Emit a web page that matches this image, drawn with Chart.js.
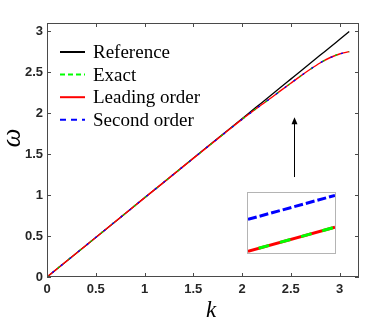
<!DOCTYPE html>
<html><head><meta charset="utf-8">
<script src="https://cdn.jsdelivr.net/npm/chart.js@4/dist/chart.umd.min.js"></script>
<style>
html,body{margin:0;padding:0;background:#fff;}
#wrap{position:relative;width:382px;height:322px;}
#inset{position:absolute;left:247px;top:192px;width:87px;height:60px;border:1px solid #b4b4b4;background:#fff;}
</style></head>
<body>
<div id="wrap">
<canvas id="c" width="382" height="322"></canvas>
<div id="inset"><canvas id="ci" width="87" height="60"></canvas></div>
</div>
<script>
// ---- data ----
const kValues      = [0,0.5,1,1.5,1.8,2,2.1,2.2,2.3,2.4,2.5,2.6,2.7,2.8,2.9,3.0,3.1];
const referenceW   = [0,0.483,0.966,1.449,1.739,1.932,2.029,2.125,2.222,2.318,2.415,2.512,2.608,2.705,2.801,2.898,2.995];
const exactW       = [0,0.483,0.966,1.448,1.735,1.924,2.014,2.102,2.188,2.277,2.365,2.452,2.535,2.612,2.676,2.722,2.75];
const leadingW     = [0,0.483,0.966,1.448,1.735,1.924,2.014,2.102,2.188,2.277,2.365,2.452,2.535,2.612,2.676,2.722,2.75];
const secondW      = [0,0.483,0.966,1.448,1.735,1.924,2.014,2.102,2.188,2.277,2.365,2.452,2.535,2.612,2.676,2.722,2.75];
const xTicks = [0,0.5,1,1.5,2,2.5,3];
const yTicks = [0,0.5,1,1.5,2,2.5,3];
// inset (magnified view, local units)
const insetX       = [0,1];
const insetSecond  = [0.56,0.96];
const insetExact   = [0.03,0.43];
const insetLeading = [0.03,0.43];
// arrow annotation (data coords)
const arrowK = 2.53, arrowFrom = 1.22, arrowTo = 1.95;

const pts = (xs, ys) => xs.map((x,i)=>({x:x,y:ys[i]}));

const legendStyles = {
  'Reference':     {color:'#000000', dash:[]},
  'Exact':         {color:'#00ff00', dash:[5,3]},
  'Leading order': {color:'#ff0000', dash:[]},
  'Second order':  {color:'#0000ff', dash:[6,5]}
};

const decor = {
  id:'decor',
  afterDatasetsDraw(chart){
    const ctx = chart.ctx, a = chart.chartArea;
    const xs = chart.scales.x, ys = chart.scales.y;
    ctx.save();
    ctx.strokeStyle = '#4a4a4a'; ctx.lineWidth = 1;
    ctx.strokeRect(a.left+0.5, a.top+0.5, a.right-a.left-1, a.bottom-a.top-1);
    const tl = 4;
    ctx.beginPath();
    xTicks.forEach(v=>{
      const p = Math.round(xs.getPixelForValue(v))+0.5;
      ctx.moveTo(p, a.bottom); ctx.lineTo(p, a.bottom-tl);
      ctx.moveTo(p, a.top); ctx.lineTo(p, a.top+tl);
    });
    yTicks.forEach(v=>{
      const p = Math.round(ys.getPixelForValue(v))+0.5;
      ctx.moveTo(a.left, p); ctx.lineTo(a.left+tl, p);
      ctx.moveTo(a.right, p); ctx.lineTo(a.right-tl, p);
    });
    ctx.stroke();
    const ax = Math.round(xs.getPixelForValue(arrowK))+0.5;
    const y0 = ys.getPixelForValue(arrowFrom), y1 = ys.getPixelForValue(arrowTo);
    ctx.strokeStyle = '#000'; ctx.lineWidth = 1;
    ctx.beginPath(); ctx.moveTo(ax, y0); ctx.lineTo(ax, y1+5); ctx.stroke();
    ctx.fillStyle = '#000';
    ctx.beginPath(); ctx.moveTo(ax, y1); ctx.lineTo(ax-3, y1+7); ctx.lineTo(ax+3, y1+7); ctx.closePath(); ctx.fill();
    let row = 0;
    chart.data.datasets.filter(d=>d.label).sort((p,q)=>p.legendIndex-q.legendIndex).forEach(d=>{
      const st = legendStyles[d.label];
      const cy = 52 + row*22.6;
      ctx.strokeStyle = st.color; ctx.lineWidth = 2; ctx.setLineDash(st.dash);
      ctx.beginPath(); ctx.moveTo(60, cy); ctx.lineTo(85, cy); ctx.stroke();
      ctx.setLineDash([]);
      ctx.fillStyle = '#000'; ctx.font = '19px "Liberation Serif"';
      ctx.textBaseline = 'middle'; ctx.textAlign = 'left';
      ctx.fillText(d.label, 93, cy+1);
      row++;
    });
    ctx.fillStyle = '#000';
    ctx.font = 'italic 27px "Liberation Serif"';
    ctx.textAlign = 'center'; ctx.textBaseline = 'middle';
    ctx.save(); ctx.translate(13, 138); ctx.rotate(-Math.PI/2); ctx.fillText('ω', 0, 0); ctx.restore();
    ctx.font = 'italic 23px "Liberation Serif"';
    ctx.fillText('k', 211, 311);
    ctx.restore();
  }
};

const fmt = v => String(Math.round(v*10)/10);

new Chart(document.getElementById('c'), {
  type:'line',
  data:{ datasets:[
    {label:'Reference', legendIndex:0, data:pts(kValues, referenceW), borderColor:'#000', borderWidth:1.3, order:4},
    {label:'Second order', legendIndex:3, data:pts(kValues, secondW), borderColor:'#0000ff', borderWidth:1.4, borderDash:[2,9], borderDashOffset:4, order:1},
    {label:'Exact', legendIndex:1, data:pts(kValues, exactW), borderColor:'#00d000', borderWidth:1.4, borderDash:[2,12], order:2},
    {label:'Leading order', legendIndex:2, data:pts(kValues, leadingW), borderColor:'#ff0000', borderWidth:1.4, order:3}
  ]},
  options:{
    responsive:false, animation:false,
    devicePixelRatio:1,
    layout:{padding:{left:0, top:23, right:23, bottom:0}},
    elements:{point:{radius:0}, line:{cubicInterpolationMode:'monotone', fill:false}},
    plugins:{legend:{display:false}, tooltip:{enabled:false}},
    scales:{
      x:{type:'linear', min:0, max:3.2,
         grid:{display:false, drawTicks:false}, border:{display:false},
         ticks:{stepSize:0.5, includeBounds:false, padding:5, color:'#262626', maxRotation:0, callback:fmt,
                font:{family:'"Liberation Sans", Arial', weight:'bold', size:13}},
         afterFit(s){ s.height = 45; }},
      y:{type:'linear', min:0, max:3.1,
         grid:{display:false, drawTicks:false}, border:{display:false},
         ticks:{stepSize:0.5, includeBounds:false, padding:4, color:'#262626', callback:fmt,
                font:{family:'"Liberation Sans", Arial', weight:'bold', size:13}},
         afterFit(s){ s.width = 47; }}
    }
  },
  plugins:[decor]
});

new Chart(document.getElementById('ci'), {
  type:'line',
  data:{ datasets:[
    {data:pts(insetX, insetSecond), borderColor:'#0000ff', borderWidth:3, borderDash:[9,3], order:0},
    {data:pts(insetX, insetExact), borderColor:'#00ff00', borderWidth:3, borderDash:[11,11], borderDashOffset:11, order:1},
    {data:pts(insetX, insetLeading), borderColor:'#ff0000', borderWidth:3, order:2}
  ]},
  options:{
    responsive:false, animation:false, devicePixelRatio:1,
    layout:{padding:0},
    elements:{point:{radius:0}},
    plugins:{legend:{display:false}, tooltip:{enabled:false}},
    scales:{
      x:{type:'linear', min:0, max:1, display:false},
      y:{type:'linear', min:0, max:1, display:false}
    }
  }
});
</script>
</body></html>
